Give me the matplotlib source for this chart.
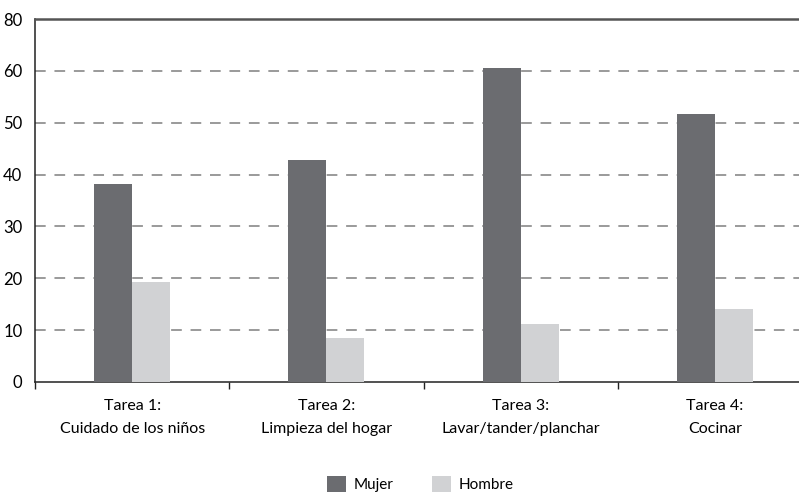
import matplotlib
matplotlib.use("Agg")
import matplotlib.pyplot as plt
import numpy as np

plt.rcParams['font.family'] = ['Lato', 'DejaVu Sans']

categories = ["Tarea 1:\nCuidado de los niños", "Tarea 2:\nLimpieza del hogar",
              "Tarea 3:\nLavar/tander/planchar", "Tarea 4:\nCocinar"]
mujer = [38.1, 42.9, 60.6, 51.7]
hombre = [19.2, 8.5, 11.2, 14.0]
y_ticks = [0, 10, 20, 30, 40, 50, 60, 70]
y_tick_labels = ["0", "10", "20", "30", "40", "50", "60", "80"]

col_mujer = "#6b6c70"
col_hombre = "#d1d2d4"

fig = plt.figure(figsize=(7.99, 4.93), dpi=100)
ax = fig.add_axes([35 / 799, 1 - 382 / 493, 777 / 799, (382 - 19) / 493])

x = np.arange(len(categories))
w = 0.195
ax.bar(x - w / 2, mujer, width=w, color=col_mujer, label="Mujer", zorder=3)
ax.bar(x + w / 2, hombre, width=w, color=col_hombre, label="Hombre", zorder=3)

ax.set_xlim(-0.5, len(categories) - 0.5)
ax.set_ylim(0, 70)
ax.set_yticks(y_ticks)
ax.set_yticklabels(y_tick_labels)

# dashed grid for inner ticks only
for t in y_ticks[1:-1]:
    ax.axhline(t, color="#9a9a9a", lw=1.4, ls=(0, (5.5, 4.5)), zorder=1)

ax.set_xticks(x)
ax.set_xticklabels(categories, fontsize=11.5, linespacing=1.85)
ax.set_xticks(np.arange(len(categories) + 1) - 0.5, minor=True)
ax.tick_params(axis="x", which="major", length=0, pad=12)
ax.tick_params(axis="x", which="minor", length=5, width=1, color="#222222", direction="out")
ax.tick_params(axis="y", length=0, pad=9, labelsize=12)

ax.spines["right"].set_visible(False)
ax.spines["left"].set_color("#222222")
ax.spines["left"].set_linewidth(1.1)
ax.spines["bottom"].set_color("#222222")
ax.spines["bottom"].set_linewidth(1.1)
ax.spines["top"].set_color("#555555")
ax.spines["top"].set_linewidth(1.8)

fig.legend(loc="center", bbox_to_anchor=(420 / 799, 1 - 484 / 493), ncol=2, frameon=False,
           fontsize=11, handlelength=1.25, handleheight=1.25, columnspacing=2.5,
           handletextpad=0.5)

fig.savefig("out.png", dpi=100)
